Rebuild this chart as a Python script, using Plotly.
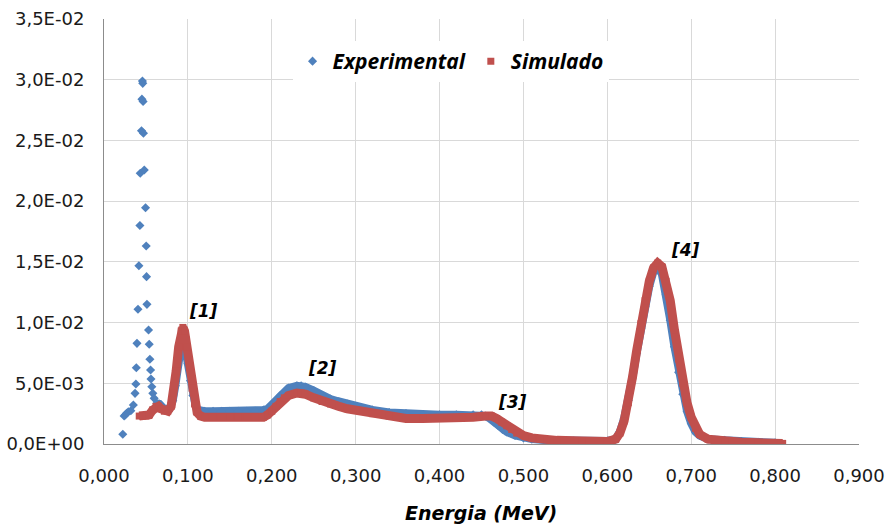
import plotly.graph_objects as go

# ---------------- data ----------------
# Experimental spectrum (MeV, counts normalised)
exp_x = [0.0224, 0.0240, 0.0255, 0.0270, 0.0290, 0.0320, 0.0350, 0.0370, 0.0380, 0.0385,
         0.0393, 0.0405, 0.0416, 0.0428, 0.0432, 0.0447, 0.0452, 0.0458, 0.0462, 0.0466,
         0.0470, 0.0480, 0.0495, 0.0503, 0.0507, 0.0512, 0.0531, 0.0539, 0.0547, 0.0555,
         0.0560, 0.0570, 0.0582, 0.0598,
         0.063, 0.066, 0.070, 0.074, 0.078, 0.082, 0.085, 0.088, 0.091, 0.093,
         0.095, 0.097, 0.100, 0.103, 0.106, 0.109, 0.112, 0.116, 0.120, 0.130,
         0.140, 0.150, 0.160, 0.170, 0.180, 0.190, 0.195, 0.200, 0.205, 0.210,
         0.215, 0.220, 0.230, 0.235, 0.240, 0.250, 0.260, 0.270, 0.280, 0.290,
         0.300, 0.320, 0.340, 0.360, 0.380, 0.400, 0.420, 0.440, 0.450, 0.455,
         0.460, 0.465, 0.470, 0.475, 0.480, 0.490, 0.500, 0.510, 0.530, 0.560,
         0.600, 0.610, 0.615, 0.620, 0.625, 0.630, 0.635, 0.640, 0.645, 0.650,
         0.655, 0.660, 0.665, 0.670, 0.675, 0.680, 0.685, 0.690, 0.695, 0.700,
         0.705, 0.710, 0.720, 0.740, 0.760, 0.780, 0.800]
exp_y = [0.0008, 0.0023, 0.0024, 0.00253, 0.00265, 0.00274, 0.00321, 0.00417, 0.00494, 0.00628,
         0.00829, 0.0111, 0.01468, 0.0180, 0.0223, 0.0258, 0.0284, 0.0299, 0.0297, 0.0282,
         0.0256, 0.02256, 0.01946, 0.0163, 0.01378, 0.0115, 0.00939, 0.00821, 0.00698, 0.00609,
         0.00535, 0.00472, 0.00417, 0.00376,
         0.00335, 0.0033, 0.0030, 0.0028, 0.0029, 0.0036, 0.0048, 0.0065, 0.0080, 0.0086,
         0.0085, 0.0078, 0.0066, 0.0052, 0.0040, 0.0032, 0.0028, 0.0027, 0.0027, 0.0027,
         0.0027, 0.0027, 0.0027, 0.0027, 0.0027, 0.0028, 0.0029, 0.0032, 0.0036, 0.0040,
         0.0043, 0.0046, 0.0048, 0.0048, 0.0047, 0.0044, 0.0040, 0.0037, 0.0035, 0.0033,
         0.0031, 0.0028, 0.0026, 0.0025, 0.0024, 0.0024, 0.0024, 0.0024, 0.0024, 0.0023,
         0.0021, 0.0018, 0.0015, 0.0012, 0.0010, 0.0007, 0.0005, 0.0004, 0.0003, 0.00025,
         0.00025, 0.0004, 0.0010, 0.0021, 0.0036, 0.0055, 0.0075, 0.0095, 0.0113, 0.0130,
         0.0142, 0.0146, 0.0140, 0.0123, 0.0102, 0.0080, 0.0059, 0.0041, 0.0027, 0.0017,
         0.0010, 0.0007, 0.0004, 0.0003, 0.0002, 0.00015, 0.0001]

# Simulated spectrum
sim_x = [0.042, 0.046, 0.050, 0.054, 0.058, 0.062, 0.065, 0.068, 0.072, 0.076,
         0.080, 0.083, 0.086, 0.089, 0.092, 0.094, 0.096, 0.099, 0.102, 0.105,
         0.108, 0.111, 0.115, 0.120, 0.130, 0.140, 0.150, 0.160, 0.170, 0.180,
         0.190, 0.195, 0.200, 0.205, 0.210, 0.215, 0.220, 0.230, 0.235, 0.240,
         0.250, 0.260, 0.270, 0.280, 0.290, 0.300, 0.320, 0.340, 0.360, 0.380,
         0.400, 0.420, 0.440, 0.455, 0.462, 0.468, 0.474, 0.480, 0.486, 0.492,
         0.500, 0.510, 0.520, 0.540, 0.570, 0.600, 0.610, 0.615, 0.620, 0.625,
         0.630, 0.635, 0.640, 0.645, 0.650, 0.655, 0.660, 0.665, 0.670, 0.675,
         0.680, 0.685, 0.690, 0.695, 0.700, 0.705, 0.710, 0.720, 0.740, 0.760,
         0.780, 0.809]
sim_y = [0.0023, 0.0023, 0.0023, 0.0024, 0.0028, 0.0031, 0.0031, 0.0029, 0.0027, 0.0027,
         0.0031, 0.0042, 0.0060, 0.0080, 0.0093, 0.0096, 0.0093, 0.0080, 0.0063, 0.0046,
         0.0033, 0.0026, 0.0023, 0.0022, 0.0022, 0.0022, 0.0022, 0.0022, 0.0022, 0.0022,
         0.0022, 0.0024, 0.0027, 0.0031, 0.0035, 0.0038, 0.0040, 0.0042, 0.0042, 0.0041,
         0.0038, 0.0035, 0.0033, 0.0031, 0.0029, 0.0028, 0.0025, 0.0023, 0.0021, 0.0021,
         0.0021, 0.0021, 0.0022, 0.0023, 0.0023, 0.0021, 0.0018, 0.0015, 0.0012, 0.0009,
         0.0007, 0.0005, 0.0004, 0.0003, 0.00025, 0.0002, 0.0004, 0.0009, 0.0019, 0.0034,
         0.0055, 0.0077, 0.0099, 0.0118, 0.0134, 0.0145, 0.0149, 0.0146, 0.0134, 0.0118,
         0.0094, 0.0070, 0.0050, 0.0034, 0.0022, 0.0013, 0.0008, 0.0004, 0.0002, 0.00015,
         0.0001, 0.00005]

series_names = ["Experimental", "Simulado"]
peak_labels = ["[1]", "[2]", "[3]", "[4]"]
x_title = "Energia (MeV)"

x_tickvals = [0.0, 0.1, 0.2, 0.3, 0.4, 0.5, 0.6, 0.7, 0.8, 0.9]
x_ticktext = ["0,000", "0,100", "0,200", "0,300", "0,400", "0,500", "0,600", "0,700", "0,800", "0,900"]
y_tickvals = [0.0, 0.005, 0.010, 0.015, 0.020, 0.025, 0.030, 0.035]
y_ticktext = ["0,0E+00", "5,0E-03", "1,0E-02", "1,5E-02", "2,0E-02", "2,5E-02", "3,0E-02", "3,5E-02"]

# ---------------- styling ----------------
BLUE = "#4F81BD"
RED = "#C0504D"
TXT = "#1a1a1a"
GRID = "#D9D9D9"
AXIS = "#8C8C8C"

# experimental points that are drawn as a continuous band (dense channels)
cont_start = next(i for i, v in enumerate(exp_x) if v >= 0.0625)
exp_cx = exp_x[cont_start:]
exp_cy = exp_y[cont_start:]

fig = go.Figure()

# blue dense band
fig.add_trace(go.Scatter(x=exp_cx, y=exp_cy, mode="lines",
                         line=dict(color=BLUE, width=8), showlegend=False,
                         hoverinfo="skip"))
# blue individual channels
fig.add_trace(go.Scatter(x=exp_x, y=exp_y, mode="markers", name=series_names[0],
                         marker=dict(symbol="diamond", size=7, color=BLUE)))
# red dense band
fig.add_trace(go.Scatter(x=sim_x, y=sim_y, mode="lines",
                         line=dict(color=RED, width=9), showlegend=False,
                         hoverinfo="skip"))
fig.add_trace(go.Scatter(x=sim_x, y=sim_y, mode="markers", name=series_names[1],
                         marker=dict(symbol="square", size=7, color=RED)))

label_pos = [(0.1182, 0.01095), (0.260, 0.00626), (0.4873, 0.00346), (0.6932, 0.01598)]
for txt, (lx, ly) in zip(peak_labels, label_pos):
    fig.add_annotation(x=lx, y=ly, text=txt, showarrow=False,
                       font=dict(family="DejaVu Sans", size=17, color="#000000",
                                 weight="bold", style="italic"))

# x-axis title
fig.add_annotation(x=0.499, y=-0.162, xref="paper", yref="paper", text=x_title,
                   showarrow=False, xanchor="center", yanchor="middle",
                   font=dict(family="DejaVu Sans", size=19, color="#000000",
                             weight="bold", style="italic"))

fig.update_layout(
    width=887, height=528,
    margin=dict(l=104, r=28, t=19, b=84),
    paper_bgcolor="white", plot_bgcolor="white",
    font=dict(family="DejaVu Sans", size=18, color=TXT),
    legend=dict(orientation="h", x=0.459, y=0.90, xanchor="center", yanchor="middle",
                bgcolor="white",
                font=dict(family="Open Sans", size=21, color="#000000",
                          weight="bold", style="italic")),
    xaxis=dict(range=[0, 0.9], tickvals=x_tickvals, ticktext=x_ticktext,
               showgrid=True, gridcolor=GRID, gridwidth=1, zeroline=False,
               showline=True, linecolor=AXIS, linewidth=1, ticks="",
               ticklabelstandoff=15, automargin=False,
               tickfont=dict(family="DejaVu Sans", size=18, color=TXT)),
    yaxis=dict(range=[0, 0.035], tickvals=y_tickvals, ticktext=y_ticktext,
               showgrid=True, gridcolor=GRID, gridwidth=1, zeroline=False,
               showline=True, linecolor=AXIS, linewidth=1, ticks="",
               ticklabelstandoff=15, automargin=False,
               tickfont=dict(family="DejaVu Sans", size=18, color=TXT)),
)

fig.write_html("out.html")
